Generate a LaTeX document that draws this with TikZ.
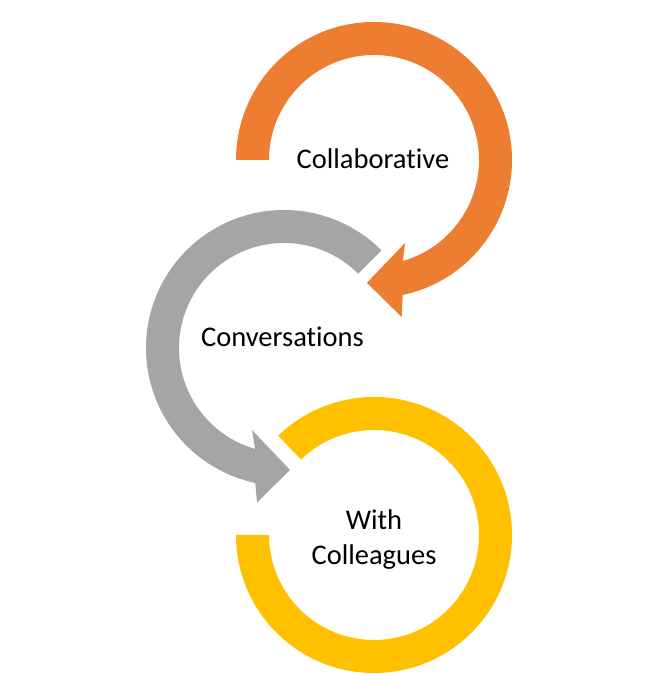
\documentclass[tikz,border=0pt]{standalone}
\usepackage{fontspec}
\setmainfont{Carlito}[Ligatures={NoCommon}]
\definecolor{arrorange}{HTML}{ED7D31}
\definecolor{arrgray}{HTML}{A5A5A5}
\definecolor{arryellow}{HTML}{FFC000}
\begin{document}
\begin{tikzpicture}[x=1pt, y=1pt, line join=round, lbl/.style={font=\fontsize{28.5}{35}\selectfont, align=center, inner sep=0pt}]
\useasboundingbox (0,0) rectangle (657,674);
% orange arrow, top
\fill[arrorange, shift={(374,514)}] (180:138) arc[start angle=180, end angle=-78, radius=138] -- (-80:159.5) -- (-93.3:123) -- (-69.5:88.6) -- (-74:105) arc[start angle=-74, end angle=180, radius=105] -- cycle;
% gray arrow, middle
\fill[arrgray, shift={(284,326)}] (45:138) arc[start angle=45, end angle=258, radius=138] -- (260.1:157) -- (272.8:122) -- (248.7:88) -- (254:105) arc[start angle=254, end angle=45, radius=105] -- cycle;
% yellow ring, bottom
\fill[arryellow, shift={(374,139)}] (180:138) arc[start angle=180, end angle=494, radius=138] -- (494:105) arc[start angle=494, end angle=180, radius=105] -- cycle;
\node[lbl, anchor=base] (collab) at (373,505) {Collaborative};
\node[lbl, anchor=base] (conv) at (282.5,327) {Conversations};
\node[lbl] (colleagues) at (374,134) {With\\Colleagues};
\end{tikzpicture}
\end{document}
